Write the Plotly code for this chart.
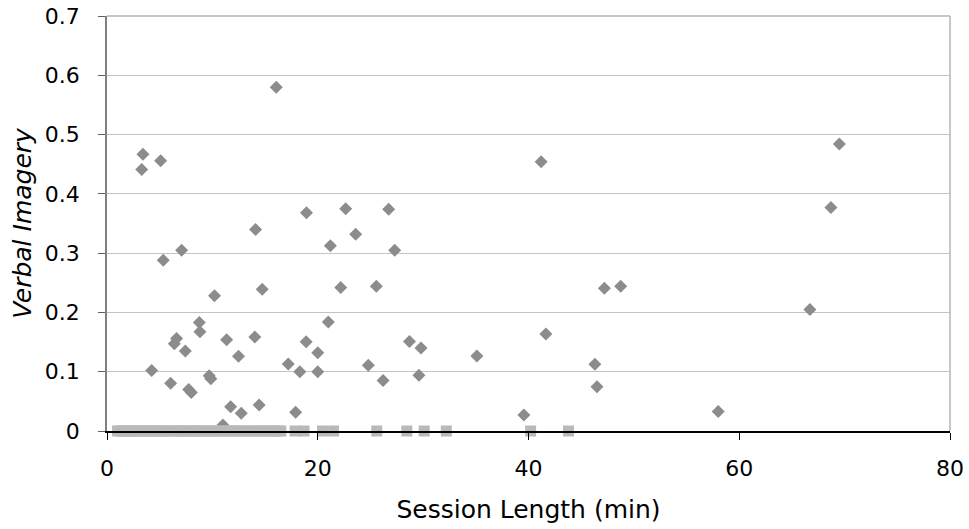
import plotly.graph_objects as go

# Diamond series (non-zero verbal imagery)
diamond_x = [3.41, 3.29, 5.09, 16.06, 14.1, 18.93, 22.65, 26.73, 23.6, 5.34,
             7.08, 21.2, 27.3, 10.2, 14.73, 22.18, 25.56, 8.76, 8.82, 6.6,
             6.39, 7.43, 11.35, 14.03, 12.48, 21.0, 18.9, 20.0, 28.7, 29.8,
             4.24, 6.04, 7.75, 8.0, 9.7, 9.85, 17.2, 18.3, 20.0, 24.8,
             26.2, 29.6, 11.73, 12.74, 14.44, 17.9, 11.0, 41.2, 47.2, 48.75,
             41.65, 35.1, 46.3, 46.5, 39.56, 58.0, 66.7, 68.7, 69.5]
diamond_y = [0.467, 0.441, 0.456, 0.580, 0.340, 0.368, 0.375, 0.374, 0.332, 0.288,
             0.305, 0.3125, 0.305, 0.228, 0.239, 0.242, 0.244, 0.183, 0.1675, 0.156,
             0.147, 0.135, 0.154, 0.1585, 0.126, 0.184, 0.1506, 0.132, 0.151, 0.140,
             0.102, 0.0804, 0.070, 0.065, 0.093, 0.088, 0.113, 0.100, 0.100, 0.111,
             0.085, 0.094, 0.041, 0.030, 0.044, 0.0315, 0.010, 0.454, 0.2406, 0.244,
             0.1636, 0.1265, 0.1125, 0.0748, 0.027, 0.033, 0.205, 0.377, 0.484]

# Square series (zero verbal imagery)
square_x = [1.0, 1.3, 1.6, 2.0, 2.3, 2.7, 3.0, 3.4, 3.8, 4.1, 4.5, 4.9, 5.2, 5.6,
            6.0, 6.4, 6.8, 7.1, 7.5, 7.9, 8.3, 8.6, 9.0, 9.4, 9.8, 10.2, 10.6,
            11.0, 11.4, 11.8, 12.2, 12.6, 13.0, 13.4, 13.8, 14.2, 14.6, 15.0,
            15.4, 15.8, 16.2, 16.5, 17.85, 18.7, 20.45, 21.5, 25.6, 28.45, 30.1,
            32.2, 40.2, 43.8]
square_y = [0.0] * len(square_x)

x_ticks = [0, 20, 40, 60, 80]
y_ticks = [0, 0.1, 0.2, 0.3, 0.4, 0.5, 0.6, 0.7]
y_tick_labels = ["0", "0.1", "0.2", "0.3", "0.4", "0.5", "0.6", "0.7"]

FONT = "DejaVu Sans, Verdana, sans-serif"

fig = go.Figure()
fig.add_trace(go.Scatter(x=diamond_x, y=diamond_y, mode="markers",
                         marker=dict(symbol="diamond", size=10, color="#8c8c8c",
                                     line=dict(width=0)),
                         showlegend=False, cliponaxis=False))
fig.add_trace(go.Scatter(x=square_x, y=square_y, mode="markers",
                         marker=dict(symbol="square", size=11, color="#b9b9b9",
                                     line=dict(width=0)),
                         showlegend=False, cliponaxis=False))

fig.update_layout(
    width=969, height=529,
    margin=dict(l=107, r=19, t=16, b=98, autoexpand=False),
    paper_bgcolor="white", plot_bgcolor="white",
    font=dict(family=FONT, size=22, color="black"),
    xaxis=dict(range=[0, 80], tickvals=x_ticks, showgrid=False, zeroline=False,
               showline=True, linecolor="black", linewidth=1.5,
               ticks="outside", ticklen=7, tickcolor="black", tickwidth=1,
               ticklabelstandoff=10, automargin=False,
               tickfont=dict(family=FONT, size=22),
               title=dict(text="Session Length (min)", standoff=20,
                          font=dict(family=FONT, size=25))),
    yaxis=dict(range=[0, 0.7], tickvals=y_ticks, ticktext=y_tick_labels,
               showgrid=True, gridcolor="#c4c4c4", gridwidth=1, zeroline=False,
               showline=True, linecolor="#808080", linewidth=1.5,
               ticks="outside", ticklen=7, tickcolor="#606060", tickwidth=1,
               ticklabelstandoff=14, automargin=False,
               tickfont=dict(family=FONT, size=22),
               title=dict(text="<i>Verbal Imagery</i>", standoff=6,
                          font=dict(family=FONT, size=25))),
    shapes=[
        dict(type="line", xref="paper", yref="paper", x0=0, x1=1, y0=1, y1=1,
             line=dict(color="#b4b4b4", width=1.5)),
        dict(type="line", xref="paper", yref="paper", x0=1, x1=1, y0=0, y1=1,
             line=dict(color="#b4b4b4", width=1.5)),
    ],
)

fig.write_html("out.html", config={"displayModeBar": False},
               post_script="document.body.style.margin='0';document.body.style.overflow='hidden';")
